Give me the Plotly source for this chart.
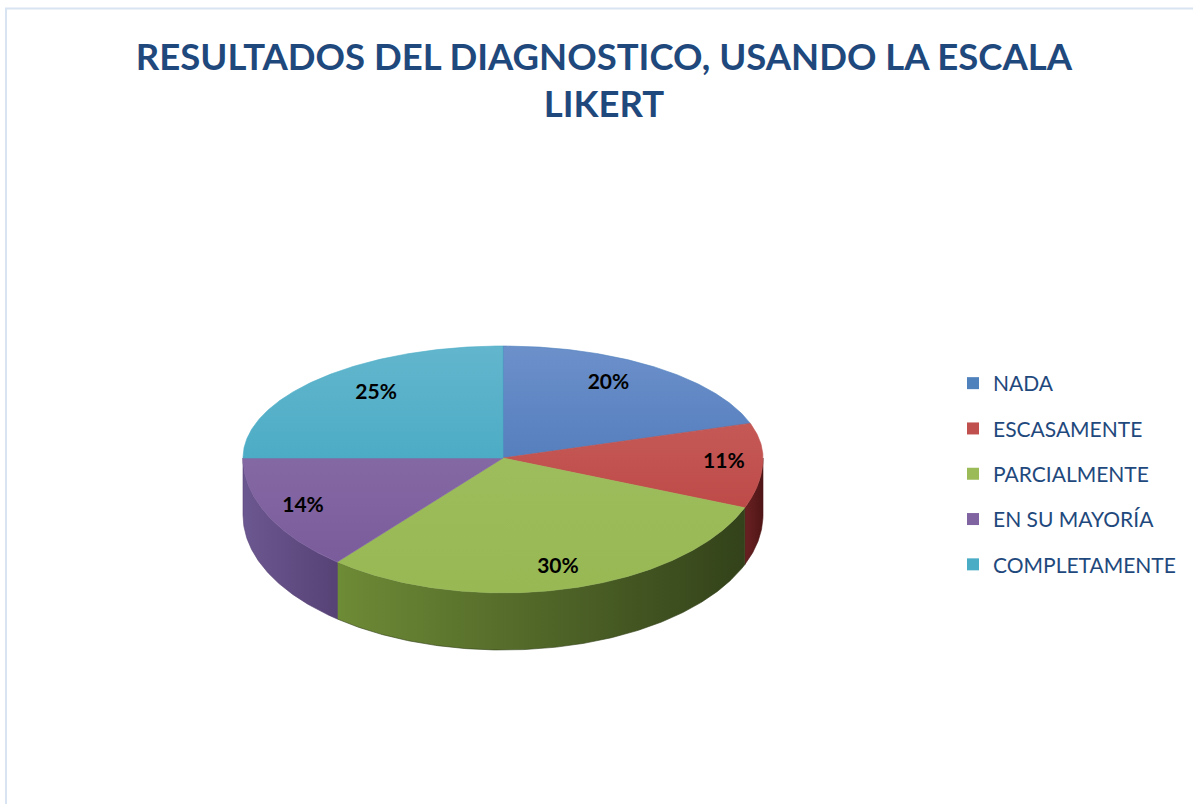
import math
import plotly.graph_objects as go

# ---- data ----
labels = ["NADA", "ESCASAMENTE", "PARCIALMENTE", "EN SU MAYORÍA", "COMPLETAMENTE"]
values = [20, 11, 30, 14, 25]
title_text = "RESULTADOS DEL DIAGNOSTICO, USANDO LA ESCALA<br>LIKERT"

# ---- style ----
base_colors = ["#4F81BD", "#C0504D", "#9BBB59", "#8064A2", "#4BACC6"]
top_light = ["#6C90CA", "#CB6663", "#A3C165", "#8E76AC", "#62B6CD"]
top_dark = ["#3B6AB0", "#B73C3A", "#97B853", "#785899", "#33A0BC"]
side_light = ["#2F4F7F", "#6A2122", "#6E8B36", "#6C5890", "#2C7489"]
side_dark = ["#22395C", "#4F1516", "#33421A", "#574276", "#1F5564"]

W, H = 1193, 804
CX, CY = 503, 458
RX, RY_BACK, RY_FRONT = 260, 112, 135
DEPTH = 57
TITLE_COLOR = "#1F497D"


def pt(theta_deg, dz=0.0):
    t = math.radians(theta_deg)
    s = -math.cos(t)
    ry = RY_BACK if s < 0 else RY_FRONT
    return CX + RX * math.sin(t), CY + ry * s + dz


def arc(a, b, dz=0.0, step=0.5):
    n = max(2, int(abs(b - a) / step) + 1)
    return [pt(a + (b - a) * i / (n - 1), dz) for i in range(n)]


total = sum(values)
bounds = []
acc = 0
for v in values:
    a = acc / total * 360
    acc += v
    b = acc / total * 360
    bounds.append((a, b))

fig = go.Figure()

# side walls (front half only)
for i, (a, b) in enumerate(bounds):
    a2, b2 = max(a, 90), min(b, 270)
    if a2 >= b2:
        continue
    top = arc(a2, b2)
    bot = arc(b2, a2, DEPTH)
    pts = top + bot + [top[0]]
    fig.add_trace(go.Scatter(
        x=[p[0] for p in pts], y=[p[1] for p in pts], mode="lines", fill="toself",
        line=dict(width=0.6, color=side_dark[i]),
        fillgradient=dict(type="horizontal",
                          colorscale=[[0, side_light[i]], [1, side_dark[i]]]),
        showlegend=False, hoverinfo="skip"))

# top faces
for i, (a, b) in enumerate(bounds):
    pts = [(CX, CY)] + arc(a, b) + [(CX, CY)]
    fig.add_trace(go.Scatter(
        x=[p[0] for p in pts], y=[p[1] for p in pts], mode="lines", fill="toself",
        line=dict(width=0.6, color=base_colors[i]),
        fillgradient=dict(type="vertical", start=CY - RY_BACK, stop=CY + RY_FRONT,
                          colorscale=[[0, top_light[i]], [1, top_dark[i]]]),
        name=labels[i], showlegend=False,
        hovertemplate=f"{labels[i]}: {values[i]}%<extra></extra>"))

# percentage labels
lx, ly, lt = [], [], []
for i, (a, b) in enumerate(bounds):
    m = math.radians((a + b) / 2)
    s = -math.cos(m)
    ry = RY_BACK if s < 0 else RY_FRONT
    kx = 0.69 if s < 0 else 0.85
    lx.append(CX + RX * math.sin(m) * kx)
    ly.append(CY + ry * s * 0.83 + 1)
    lt.append(f"{round(values[i] / total * 100)}%")
fig.add_trace(go.Scatter(
    x=lx, y=ly, mode="text", text=lt,
    textfont=dict(family="Lato", size=21, color="black", weight="bold"),
    showlegend=False, hoverinfo="skip"))

# legend entries
for i, lab in enumerate(labels):
    fig.add_trace(go.Scatter(
        x=[None], y=[None], mode="markers",
        marker=dict(symbol="square", size=12, color=base_colors[i]),
        name=lab, legendgroup=lab, showlegend=True))

fig.update_layout(
    width=W, height=H, autosize=False,
    margin=dict(l=0, r=0, t=0, b=0),
    paper_bgcolor="white", plot_bgcolor="white",
    title=dict(text=title_text, x=604 / W, xanchor="center",
               y=1 - 70 / H, yanchor="top", yref="container",
               font=dict(family="Lato", size=36.5, color=TITLE_COLOR, weight="bold")),
    xaxis=dict(range=[0, W], visible=False, fixedrange=True),
    yaxis=dict(range=[H, 0], visible=False, fixedrange=True),
    legend=dict(x=953 / W, y=1 - 363 / H, xanchor="left", yanchor="top",
                traceorder="grouped", tracegroupgap=15,
                font=dict(family="Lato", size=21, color=TITLE_COLOR),
                bgcolor="rgba(0,0,0,0)"),
    shapes=[dict(type="rect", xref="x", yref="y", x0=6, y0=8.5, x1=W + 20, y1=H + 20,
                 line=dict(color="#D9E4F3", width=2), layer="above")],
)

fig.write_html("out.html", config={"displayModeBar": False},
               post_script="document.body.style.margin='0';")
